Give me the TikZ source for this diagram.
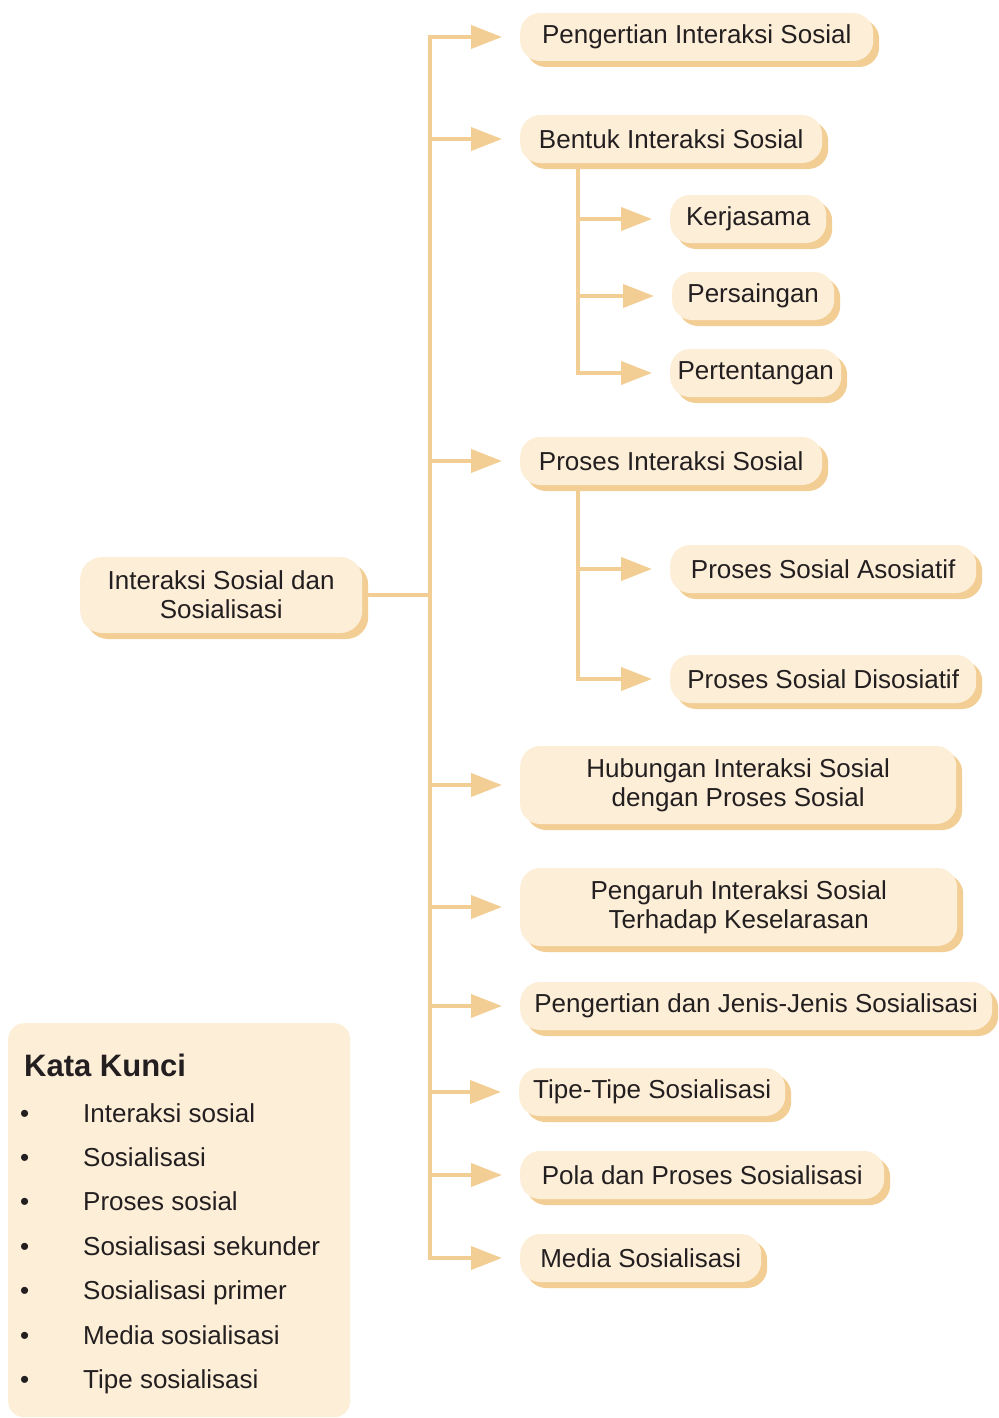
\documentclass[tikz,border=0pt]{standalone}
\usepackage{fontspec}
\setmainfont{Liberation Sans}
\usetikzlibrary{arrows.meta,shadows,calc}
\definecolor{boxfill}{HTML}{FDEED8}
\definecolor{linecol}{HTML}{F2CE95}
\definecolor{textcol}{HTML}{231F20}
\tikzset{
  topicbox/.style={fill=boxfill, rounded corners=20pt,
    drop shadow={shadow xshift=6pt, shadow yshift=-6pt, fill=linecol, opacity=1},
    minimum height=48pt, anchor=west, align=center, inner sep=0pt,
    font=\fontsize{26}{29}\selectfont, text=textcol},
  conn/.style={draw=linecol, line width=4pt},
  arr/.style={conn, -{Triangle[length=31pt,width=23pt]}, shorten >=18pt},
  kw/.style={anchor=base west, inner sep=0pt, font=\fontsize{26}{29}\selectfont, text=textcol},
}
\begin{document}
\begin{tikzpicture}[x=1pt,y=-1pt]
\useasboundingbox (0,0) rectangle (998,1418);
% nodes
\node[topicbox, minimum width=282pt, minimum height=76pt, rounded corners=22pt] (root) at (80,595) {Interaksi Sosial dan\\Sosialisasi};
\node[topicbox, minimum width=353pt] (n1) at (520,37) {Pengertian Interaksi Sosial};
\node[topicbox, minimum width=302pt] (n2) at (520,139) {Bentuk Interaksi Sosial};
\node[topicbox, minimum width=156pt] (n3) at (670,219) {Kerjasama};
\node[topicbox, minimum width=162pt] (n4) at (672,296) {Persaingan};
\node[topicbox, minimum width=171pt] (n5) at (670,373) {Pertentangan};
\node[topicbox, minimum width=302pt] (n6) at (520,461) {Proses Interaksi Sosial};
\node[topicbox, minimum width=306pt] (n7) at (670,569) {Proses Sosial Asosiatif};
\node[topicbox, minimum width=306pt] (n8) at (670,679) {Proses Sosial Disosiatif};
\node[topicbox, minimum width=436pt, minimum height=78pt] (n9) at (520,785) {Hubungan Interaksi Sosial\\dengan Proses Sosial};
\node[topicbox, minimum width=437pt, minimum height=78pt] (n10) at (520,907) {Pengaruh Interaksi Sosial\\Terhadap Keselarasan};
\node[topicbox, minimum width=472pt] (n11) at (520,1006) {Pengertian dan Jenis-Jenis Sosialisasi};
\node[topicbox, minimum width=266pt] (n12) at (519,1092) {Tipe-Tipe Sosialisasi};
\node[topicbox, minimum width=364pt] (n13) at (520,1175) {Pola dan Proses Sosialisasi};
\node[topicbox, minimum width=241pt] (n14) at (520,1258) {Media Sosialisasi};
% trunk
\coordinate (trunk) at (430,0);
\coordinate (sub) at (578,0);
\draw[conn] (root.east) -- (root.east -| trunk);
\draw[conn, line cap=rect] (n1.west -| trunk) -- (n14.west -| trunk);
\foreach \n in {n1,n2,n6,n9,n10,n11,n12,n13,n14}
  \draw[arr] (\n.west -| trunk) -- (\n.west);
% sub branches
\draw[arr] ([yshift=-6pt]n2.south -| sub) |- (n5.west);
\draw[arr] ([yshift=-6pt]n6.south -| sub) |- (n8.west);
\foreach \n in {n3,n4,n7}
  \draw[arr] (\n.west -| sub) -- (\n.west);
% Kata Kunci
\node[fill=boxfill, rounded corners=16pt, minimum width=342pt, minimum height=394pt, anchor=north west, inner sep=0pt] (kk) at (8,1023) {};
\node[anchor=base west, inner sep=0pt, font=\fontsize{31}{34}\selectfont\bfseries, text=textcol] (kkt) at (24,1076) {Kata Kunci};
\foreach \t [count=\i] in {Interaksi sosial,Sosialisasi,Proses sosial,Sosialisasi sekunder,Sosialisasi primer,Media sosialisasi,Tipe sosialisasi}{
  \node[kw] (b\i) at (20,{1122+44.4*(\i-1)}) {\textbullet};
  \node[kw] (k\i) at (83,{1122+44.4*(\i-1)}) {\t};
}
\end{tikzpicture}
\end{document}
